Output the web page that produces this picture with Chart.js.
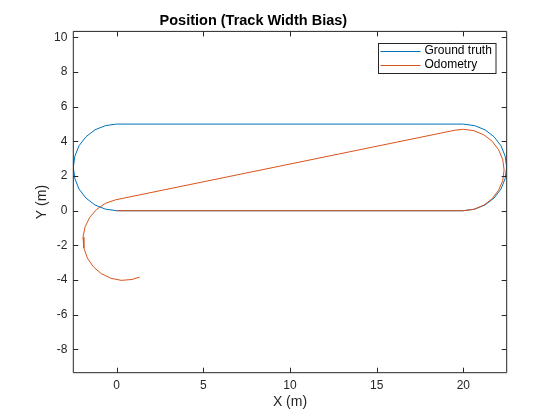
<!DOCTYPE html>
<html>
<head>
<meta charset="utf-8">
<script src="https://cdn.jsdelivr.net/npm/chart.js@4/dist/chart.umd.min.js"></script>
<style>
html,body{margin:0;padding:0;background:#fff;}
canvas{display:block;}
</style>
</head>
<body>
<canvas id="posChart" width="560" height="420"></canvas>
<script>
// data (metres)
const seriesNames = ["Ground truth", "Odometry"];

const gtX = [0, 20, 20.65, 21.25, 21.77, 22.17, 22.41, 22.5, 22.41, 22.17, 21.77, 21.25, 20.65, 20,
  0, -0.65, -1.25, -1.77, -2.17, -2.41, -2.5, -2.41, -2.17, -1.77, -1.25, -0.65, 0];
const gtY = [0, 0, 0.09, 0.33, 0.73, 1.25, 1.85, 2.5, 3.15, 3.75, 4.27, 4.67, 4.91, 5,
  5, 4.91, 4.67, 4.27, 3.75, 3.15, 2.5, 1.85, 1.25, 0.73, 0.33, 0.09, 0];

const odoX = [0, 20, 20.61, 21.18, 21.66, 22.03, 22.27, 22.35, 22.27, 22.03, 21.66, 21.18, 20.61, 20, 19.53,
  -0.06, -0.64, -1.15, -1.55, -1.82, -1.94, -1.89, -1.69, -1.35, -0.89, -0.33, 0.27, 0.88, 1.33];
const odoY = [0, 0, 0.08, 0.32, 0.69, 1.18, 1.74, 2.35, 2.96, 3.52, 4.01, 4.38, 4.62, 4.70, 4.65,
  0.63, 0.43, 0.08, -0.38, -0.93, -1.53, -2.15, -2.73, -3.23, -3.63, -3.90, -4.02, -3.97, -3.83];

const xTicks = [0, 5, 10, 15, 20];
const yTicks = [-8, -6, -4, -2, 0, 2, 4, 6, 8, 10];

const colors = ["#0072BD", "#D95319"];
const axisColor = "#262626";
const fontFamily = "'Liberation Sans', Arial, sans-serif";

function toPoints(xs, ys) {
  return xs.map((x, i) => ({x: x, y: ys[i]}));
}

// MATLAB-style box with inward ticks, plus a small legend box
const boxPlugin = {
  id: "boxPlugin",
  afterDatasetsDraw(chart) {
    const ctx = chart.ctx;
    const a = chart.chartArea;
    const xs = chart.scales.x, ys = chart.scales.y;
    const tl = 5;
    ctx.save();
    ctx.strokeStyle = axisColor;
    ctx.lineWidth = 1;
    ctx.beginPath();
    ctx.rect(a.left, a.top, a.right - a.left, a.bottom - a.top);
    xTicks.forEach(v => {
      const p = Math.round(xs.getPixelForValue(v)) + 0.5;
      ctx.moveTo(p, a.bottom); ctx.lineTo(p, a.bottom - tl);
      ctx.moveTo(p, a.top); ctx.lineTo(p, a.top + tl);
    });
    yTicks.forEach(v => {
      const p = Math.round(ys.getPixelForValue(v)) + 0.5;
      ctx.moveTo(a.left, p); ctx.lineTo(a.left + tl, p);
      ctx.moveTo(a.right, p); ctx.lineTo(a.right - tl, p);
    });
    ctx.stroke();

    // legend
    const lx = 378.5, ly = 43.5, lw = 117.5, lh = 30;
    ctx.fillStyle = "#fff";
    ctx.fillRect(lx, ly, lw, lh);
    ctx.strokeRect(lx, ly, lw, lh);
    ctx.font = "12px " + fontFamily;
    ctx.textBaseline = "middle";
    ctx.textAlign = "left";
    chart.data.datasets.forEach((ds, i) => {
      const yy = ly + 7.5 + i * 13.6;
      ctx.strokeStyle = ds.borderColor;
      ctx.beginPath();
      ctx.moveTo(lx + 2, Math.round(yy) + 0.5);
      ctx.lineTo(lx + 42, Math.round(yy) + 0.5);
      ctx.stroke();
      ctx.fillStyle = "#000";
      ctx.fillText(ds.label, lx + 46, yy);
    });
    ctx.restore();
  }
};

new Chart(document.getElementById("posChart"), {
  type: "scatter",
  data: {
    datasets: [
      {
        label: seriesNames[0],
        data: toPoints(gtX, gtY),
        showLine: true,
        borderColor: colors[0],
        borderWidth: 1,
        pointRadius: 0,
        tension: 0,
        order: 1
      },
      {
        label: seriesNames[1],
        data: toPoints(odoX, odoY),
        showLine: true,
        borderColor: colors[1],
        borderWidth: 1,
        pointRadius: 0,
        tension: 0,
        order: 0
      }
    ]
  },
  options: {
    responsive: false,
    animation: false,
    devicePixelRatio: 1,
    layout: {padding: {left: 0, right: 53.3, top: 0, bottom: 0}},
    plugins: {
      legend: {display: false},
      tooltip: {enabled: false},
      title: {
        display: true,
        text: "Position (Track Width Bias)",
        color: "#000",
        font: {family: fontFamily, size: 14.5, weight: "bold"},
        padding: {top: 12, bottom: 2}
      }
    },
    scales: {
      x: {
        type: "linear",
        min: -2.5,
        max: 22.5,
        afterBuildTicks: s => { s.ticks = xTicks.map(v => ({value: v})); },
        afterFit: s => { s.height = 47.3; },
        grid: {display: false, drawTicks: false},
        border: {display: false},
        ticks: {color: axisColor, padding: 6, font: {family: fontFamily, size: 12}},
        title: {
          display: true,
          text: "X (m)",
          color: axisColor,
          font: {family: fontFamily, size: 14},
          padding: {top: 0, bottom: 9.6}
        }
      },
      y: {
        type: "linear",
        min: -9.35,
        max: 10.35,
        afterBuildTicks: s => { s.ticks = yTicks.map(v => ({value: v})); },
        afterFit: s => { s.width = 73.3; },
        grid: {display: false, drawTicks: false},
        border: {display: false},
        ticks: {color: axisColor, padding: 6, font: {family: fontFamily, size: 12}},
        title: {
          display: true,
          text: "Y (m)",
          color: axisColor,
          font: {family: fontFamily, size: 14},
          padding: {top: 33.3, bottom: 0}
        }
      }
    }
  },
  plugins: [boxPlugin]
});
</script>
</body>
</html>
